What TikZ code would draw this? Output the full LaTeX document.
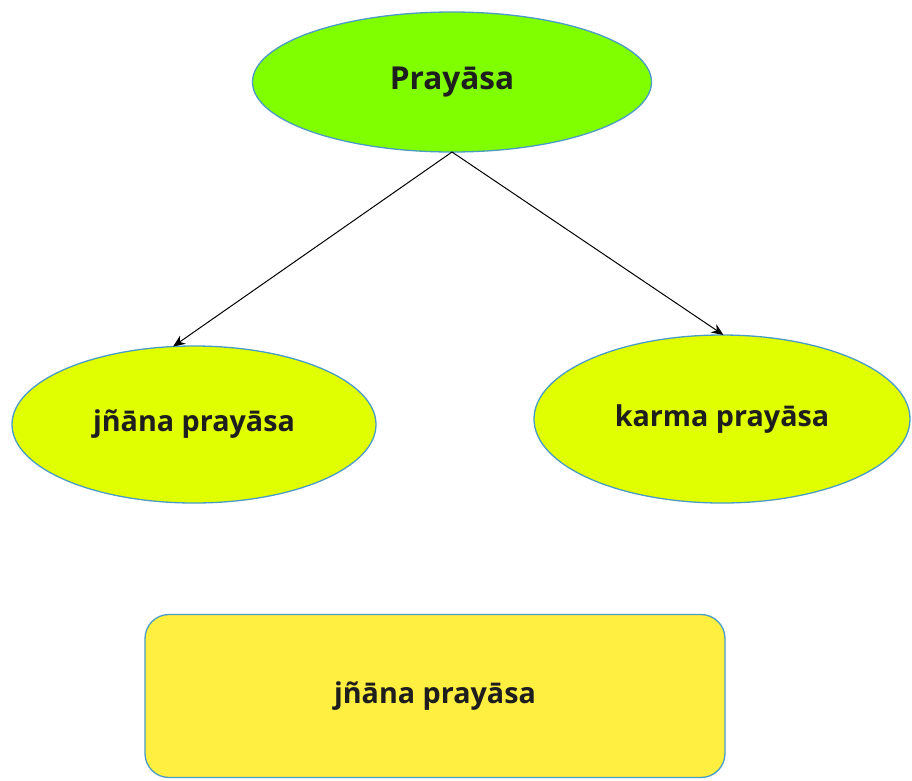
\documentclass[tikz,border=0pt]{standalone}
\usepackage{fontspec}
\setmainfont{Open Sans}
\usetikzlibrary{shapes.geometric,arrows.meta}
\definecolor{topgreen}{HTML}{80FF00}
\definecolor{lime}{HTML}{E0FF00}
\definecolor{boxyellow}{HTML}{FFEF40}
\definecolor{edgeblue}{HTML}{4A9CC4}
\definecolor{txt}{HTML}{1E1E1E}
\tikzset{
  oval/.style={ellipse, draw=edgeblue, line width=1.3pt, inner sep=0pt, outer sep=0pt,
    font=\fontsize{28.7}{32}\selectfont\bfseries, text=txt},
  rbox/.style={rectangle, rounded corners=24pt, draw=edgeblue, line width=1.3pt, inner sep=0pt,
    font=\fontsize{28.7}{32}\selectfont\bfseries, text=txt},
  conn/.style={-{Stealth[length=12pt,width=10pt]}, line width=1pt, black}
}
\begin{document}
\begin{tikzpicture}[x=1pt,y=-1pt]
\useasboundingbox (0,0) rectangle (912,780);
\node[oval, fill=topgreen, minimum width=399pt, minimum height=140pt,
  font=\fontsize{31.6}{34}\selectfont\bfseries] (top) at (452,82) {Prayāsa};
\node[oval, fill=lime, minimum width=364pt, minimum height=157pt] (left) at (194,424.5) {jñāna prayāsa};
\node[oval, fill=lime, minimum width=376pt, minimum height=168pt] (right) at (722,419) {karma prayāsa};
\node[rbox, fill=boxyellow, minimum width=580pt, minimum height=163pt] (box) at (435,696) {jñāna prayāsa};
\draw[conn] (top.south) -- (left.105);
\draw[conn] (top.south) -- (right.89);
\end{tikzpicture}
\end{document}
